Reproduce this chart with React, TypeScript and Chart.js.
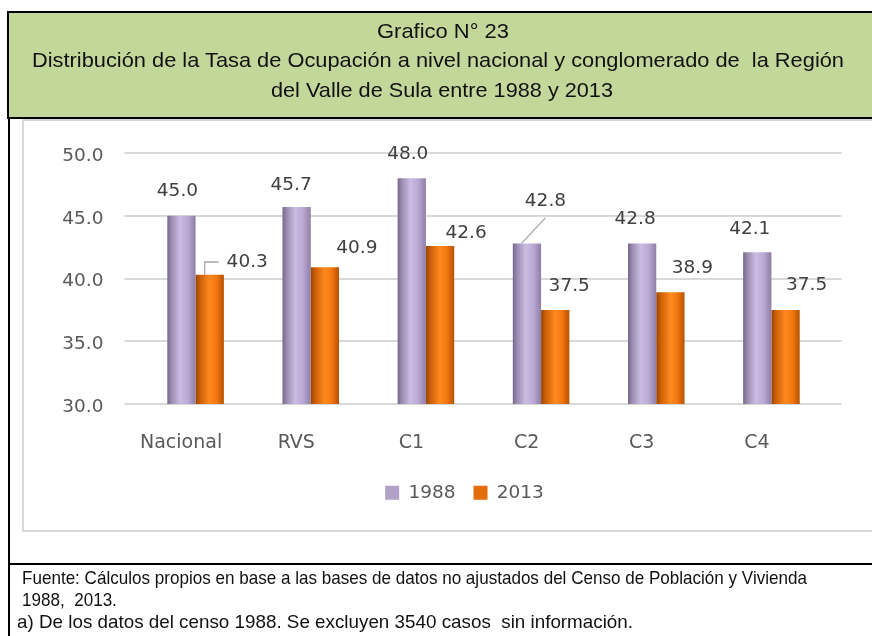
import React, { useEffect, useRef } from 'react';
import { Chart, registerables } from 'chart.js';

Chart.register(...registerables);

// ---------- data ----------
const CATEGORIES = ['Nacional', 'RVS', 'C1', 'C2', 'C3', 'C4'];
const SERIES_NAMES = ['1988', '2013'];
const VALUES_1988 = [45.0, 45.7, 48.0, 42.8, 42.8, 42.1];
const VALUES_2013 = [40.3, 40.9, 42.6, 37.5, 38.9, 37.5];
const Y_MIN = 30;
const Y_MAX = 50;
const Y_STEP = 5;

const TITLE_LINES = [
  'Grafico N° 23',
  'Distribución de la Tasa de Ocupación a nivel nacional y conglomerado de  la Región',
  'del Valle de Sula entre 1988 y 2013',
];
const FOOTER_LINES = [
  'Fuente: Cálculos propios en base a las bases de datos no ajustados del Censo de Población y Vivienda',
  '1988,  2013.',
  'a) De los datos del censo 1988. Se excluyen 3540 casos  sin información.',
];

// ---------- styling (label placement relative to each bar top) ----------
const LABEL_OFFSETS = [
  [[-4, -24.5], [-5.5, -22.3], [-4, -24.5], [18.5, -42], [-7, -23.8], [-7.5, -23.5]],
  [[37.5, -12.8], [32, -19.5], [26, -13], [14, -24], [22, -24.5], [21, -25]],
];
const LEADERS = [
  [null, null, null, 'diag', null, null],
  ['elbow', null, null, null, null, null],
];
const LEGEND_COLORS = ['#b3a2c7', '#e46c0a'];
const GRADIENT_STOPS = [
  [[0, '#76688a'], [0.15, '#9a8bb1'], [0.45, '#cbbce3'], [0.72, '#bba9d5'], [1, '#8e7fa5']],
  [[0, '#9a4400'], [0.15, '#c95e05'], [0.5, '#ff8a1f'], [0.75, '#f27610'], [1, '#b45100']],
];
const CAT_PCT = 0.491;
const NUM_FONT = 18.5;
const FONT = 'DejaVu Sans';
const NARROW = "'Liberation Sans Narrow', 'Liberation Sans', Arial, sans-serif";

function measure(text: string, size: number) {
  const c = document.createElement('canvas').getContext('2d') as CanvasRenderingContext2D;
  c.font = `${size}px ${NARROW}`;
  return c.measureText(text).width;
}

const dataLabelPlugin = {
  id: 'dataLabels',
  afterDatasetsDraw(chart: any) {
    const ctx = chart.ctx;
    ctx.save();
    ctx.font = `${NUM_FONT}px ${FONT}`;
    ctx.fillStyle = '#404040';
    ctx.textAlign = 'center';
    ctx.textBaseline = 'middle';
    chart.data.datasets.forEach((ds: any, di: number) => {
      const meta = chart.getDatasetMeta(di);
      meta.data.forEach((bar: any, i: number) => {
        const [dx, dy] = LABEL_OFFSETS[di][i];
        const lx = bar.x + dx;
        const ly = bar.y + dy;
        const text = Number(ds.data[i]).toFixed(1);
        const leader = LEADERS[di][i];
        if (leader) {
          ctx.save();
          ctx.strokeStyle = '#a6a6a6';
          ctx.lineWidth = 1.3;
          ctx.beginPath();
          if (leader === 'elbow') {
            const w = ctx.measureText(text).width;
            ctx.moveTo(bar.x - 5, bar.y);
            ctx.lineTo(bar.x - 5, ly);
            ctx.lineTo(lx - w / 2 - 8, ly);
          } else {
            ctx.moveTo(bar.x - 5.5, bar.y);
            ctx.lineTo(lx, ly + 16.5);
          }
          ctx.stroke();
          ctx.restore();
        }
        ctx.fillText(text, lx, ly);
      });
    });
    ctx.restore();
  },
};

function barGradient(di: number) {
  return (c: any) => {
    const chart = c.chart;
    const area = chart.chartArea;
    if (!area || c.type !== 'data' || !chart.scales.x) return LEGEND_COLORS[di];
    const cx = chart.scales.x.getPixelForValue(c.dataIndex);
    const catW = (area.right - area.left) / CATEGORIES.length;
    const bw = (catW * CAT_PCT) / 2;
    const left = di === 0 ? cx - bw : cx;
    const g = chart.ctx.createLinearGradient(left, 0, left + bw, 0);
    GRADIENT_STOPS[di].forEach(([o, col]: any) => g.addColorStop(o, col));
    return g;
  };
}

function ChartCanvas() {
  const ref = useRef<HTMLCanvasElement>(null);
  useEffect(() => {
    if (!ref.current) return;
    const chart = new Chart(ref.current, {
      type: 'bar',
      data: {
        labels: CATEGORIES,
        datasets: [
          { label: SERIES_NAMES[0], data: VALUES_1988, backgroundColor: barGradient(0), borderWidth: 0 },
          { label: SERIES_NAMES[1], data: VALUES_2013, backgroundColor: barGradient(1), borderWidth: 0 },
        ],
      },
      options: {
        responsive: false,
        animation: false,
        devicePixelRatio: 1,
        datasets: { bar: { categoryPercentage: CAT_PCT, barPercentage: 1 } },
        layout: { padding: { top: 31, bottom: 19, left: 0, right: 0 } },
        plugins: {
          title: { display: false },
          tooltip: { enabled: false },
          legend: {
            position: 'bottom',
            labels: {
              boxWidth: 14,
              boxHeight: 14,
              padding: 18,
              color: '#595959',
              font: { family: FONT, size: NUM_FONT },
              generateLabels: () =>
                SERIES_NAMES.map((n, i) => ({
                  text: n,
                  fillStyle: LEGEND_COLORS[i],
                  strokeStyle: LEGEND_COLORS[i],
                  lineWidth: 0,
                  hidden: false,
                  datasetIndex: i,
                  fontColor: '#595959',
                })),
            },
          },
        },
        scales: {
          x: {
            grid: { display: false },
            border: { display: false },
            ticks: {
              color: '#595959',
              font: { family: FONT, size: 19 },
              padding: 19.5,
              labelOffset: -14.5,
              maxRotation: 0,
              autoSkip: false,
            },
            afterFit: (s: any) => { s.height = 61.5; },
          },
          y: {
            min: Y_MIN,
            max: Y_MAX,
            position: 'left',
            border: { display: false },
            grid: { color: '#d9d9d9', lineWidth: 2, drawTicks: true, tickLength: 13.5 },
            ticks: {
              stepSize: Y_STEP,
              color: '#595959',
              font: { family: FONT, size: NUM_FONT },
              padding: 21,
              labelOffset: 3,
              callback: (v: any) => Number(v).toFixed(1),
            },
            afterFit: (s: any) => { s.width = 115; },
          },
          y2: {
            min: Y_MIN,
            max: Y_MAX,
            position: 'right',
            border: { display: false },
            grid: { color: '#d9d9d9', lineWidth: 2, drawOnChartArea: false, drawTicks: true, tickLength: 12.5 },
            ticks: { stepSize: Y_STEP, display: false },
            afterFit: (s: any) => { s.width = 77; },
          },
        },
      },
      plugins: [dataLabelPlugin],
    } as any);
    return () => chart.destroy();
  }, []);
  return (
    <canvas
      ref={ref}
      width={883}
      height={410}
      style={{ position: 'absolute', left: 23, top: 121, width: 883, height: 410, display: 'block' }}
    />
  );
}

export default function App() {
  const f1 = measure(FOOTER_LINES[0], 18.5);
  const f2Len = (measure(FOOTER_LINES[1], 18.5) * 785) / f1;
  const titleSpecs = [
    { x: 377, y: 37.7, len: 132 },
    { x: 32, y: 67.3, len: 812 },
    { x: 271, y: 96.7, len: 342 },
  ];
  const footerSpecs = [
    { x: 22, y: 584, len: 785 },
    { x: 22, y: 606, len: f2Len },
    { x: 17, y: 628, len: 616 },
  ];
  return (
    <div
      style={{
        position: 'fixed',
        left: 0,
        top: 0,
        width: 872,
        height: 636,
        overflow: 'hidden',
        background: '#ffffff',
      }}
    >
      <div
        style={{
          position: 'absolute',
          left: 7,
          top: 11,
          width: 900,
          height: 108,
          boxSizing: 'border-box',
          border: '2px solid #000',
          background: '#c4d79b',
        }}
      />
      <div style={{ position: 'absolute', left: 8, top: 119, width: 2, height: 520, background: '#000' }} />
      <div
        style={{
          position: 'absolute',
          left: 22,
          top: 119,
          width: 920,
          height: 413,
          boxSizing: 'border-box',
          border: '2px solid #d9d9d9',
        }}
      />
      <div style={{ position: 'absolute', left: 8, top: 563, width: 900, height: 2, background: '#000' }} />
      <ChartCanvas />
      <svg
        width={872}
        height={636}
        style={{ position: 'absolute', left: 0, top: 0, pointerEvents: 'none' }}
      >
        {TITLE_LINES.map((t, i) => (
          <text
            key={'t' + i}
            x={titleSpecs[i].x}
            y={titleSpecs[i].y}
            textLength={titleSpecs[i].len}
            lengthAdjust="spacingAndGlyphs"
            fontFamily={NARROW}
            fontSize={21}
            fill="#111"
            style={{ whiteSpace: 'pre' }}
          >
            {t}
          </text>
        ))}
        {FOOTER_LINES.map((t, i) => (
          <text
            key={'f' + i}
            x={footerSpecs[i].x}
            y={footerSpecs[i].y}
            textLength={footerSpecs[i].len}
            lengthAdjust="spacingAndGlyphs"
            fontFamily={NARROW}
            fontSize={18.5}
            fill="#111"
            style={{ whiteSpace: 'pre' }}
          >
            {t}
          </text>
        ))}
      </svg>
    </div>
  );
}
